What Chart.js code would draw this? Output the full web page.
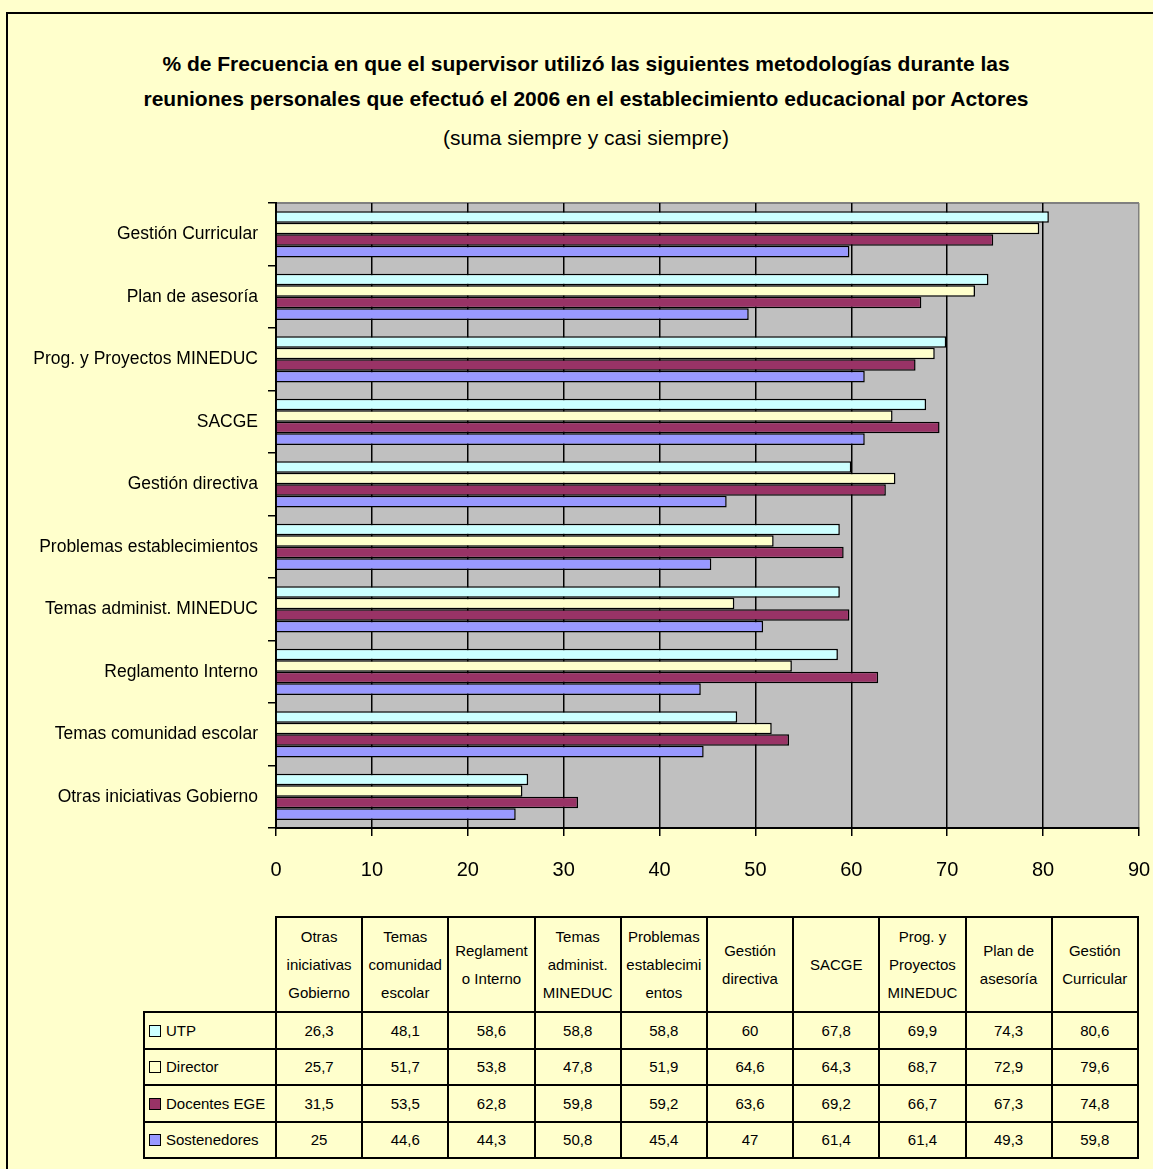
<!DOCTYPE html>
<html>
<head>
<meta charset="utf-8">
<script src="https://cdn.jsdelivr.net/npm/chart.js@4.4.1/dist/chart.umd.min.js"></script>
<style>
  html, body { margin: 0; padding: 0; background: #FFFFCC; overflow: hidden; }
  body { width: 1153px; height: 1169px; position: relative; font-family: 'Liberation Sans', Arial, sans-serif; color: #000; }
  #frame { position: absolute; left: 6px; top: 12px; width: 1200px; height: 1200px; border: 2px solid #000; }
  .title { position: absolute; left: 0; width: 1172px; text-align: center; white-space: nowrap; font-size: 21px; line-height: 24px; }
  #t1 { top: 52px; font-weight: bold; }
  #t2 { top: 87px; font-weight: bold; }
  #t3 { top: 126px; }
  #chartBox { position: absolute; left: 0; top: 0; width: 1153px; height: 900px; }
  #dataTable { position: absolute; left: 143px; top: 916px; border-collapse: collapse; table-layout: fixed; font-size: 15px; }
  #dataTable td { border: 2px solid #000; text-align: center; padding: 0; }
  #dataTable thead td { height: 93px; line-height: 28px; }
  #dataTable tbody td { height: 34.5px; }
  #dataTable td.blank { border: none; }
  #dataTable td.leg { text-align: left; padding-left: 4px; white-space: nowrap; }
  .sw { display: inline-block; width: 10px; height: 10px; border: 1.5px solid #000; margin-right: 5px; vertical-align: -1px; }
</style>
</head>
<body>
<div id="frame"></div>
<div class="title" id="t1">% de Frecuencia en que el supervisor utilizó las siguientes metodologías durante las</div>
<div class="title" id="t2">reuniones personales que efectuó el 2006 en el establecimiento educacional por Actores</div>
<div class="title" id="t3">(suma siempre y casi siempre)</div>
<div id="chartBox"><canvas id="chart"></canvas></div>
<table id="dataTable"><thead></thead><tbody></tbody></table>
<script>
// categorias en el orden de la tabla (de abajo hacia arriba en el grafico)
const categories = ['Otras iniciativas Gobierno', 'Temas comunidad escolar', 'Reglamento Interno', 'Temas administ. MINEDUC',
  'Problemas establecimientos', 'Gestión directiva', 'SACGE', 'Prog. y Proyectos MINEDUC', 'Plan de asesoría', 'Gestión Curricular'];
const tableHeaders = ['Otras<br>iniciativas<br>Gobierno', 'Temas<br>comunidad<br>escolar', 'Reglament<br>o Interno', 'Temas<br>administ.<br>MINEDUC',
  'Problemas<br>establecimi<br>entos', 'Gestión<br>directiva', 'SACGE', 'Prog. y<br>Proyectos<br>MINEDUC', 'Plan de<br>asesoría', 'Gestión<br>Curricular'];

const seriesNames = ['UTP', 'Director', 'Docentes EGE', 'Sostenedores'];
const seriesColors = ['#CCFFFF', '#FFFFCC', '#993366', '#9999FF'];

const utp = [26.3, 48.1, 58.6, 58.8, 58.8, 60, 67.8, 69.9, 74.3, 80.6];
const director = [25.7, 51.7, 53.8, 47.8, 51.9, 64.6, 64.3, 68.7, 72.9, 79.6];
const docentes = [31.5, 53.5, 62.8, 59.8, 59.2, 63.6, 69.2, 66.7, 67.3, 74.8];
const sostenedores = [25, 44.6, 44.3, 50.8, 45.4, 47, 61.4, 61.4, 49.3, 59.8];
const allSeries = [utp, director, docentes, sostenedores];

const xTicks = [0, 10, 20, 30, 40, 50, 60, 70, 80, 90];

const rev = arr => arr.slice().reverse();

// fondo gris del area de trazado
const plotBg = {
    id: 'plotBg',
    beforeDraw(chart) {
        const { ctx, chartArea: a } = chart;
        ctx.save();
        ctx.fillStyle = '#C0C0C0';
        ctx.fillRect(a.left, a.top, a.right - a.left, a.bottom - a.top);
        ctx.strokeStyle = '#808080';
        ctx.lineWidth = 2;
        ctx.beginPath();
        ctx.moveTo(a.left, a.top);
        ctx.lineTo(a.right, a.top);
        ctx.stroke();
        ctx.restore();
    }
};

new Chart(document.getElementById('chart'), {
    type: 'bar',
    data: {
        labels: rev(categories),
        datasets: seriesNames.map((name, i) => ({
            label: name,
            data: rev(allSeries[i]),
            backgroundColor: seriesColors[i],
            borderColor: '#000',
            borderWidth: 1.5,
            barPercentage: 1,
            categoryPercentage: 0.74
        }))
    },
    options: {
        indexAxis: 'y',
        responsive: true,
        maintainAspectRatio: false,
        animation: false,
        layout: { padding: { left: 0, top: 203, right: 14, bottom: 0 } },
        plugins: { legend: { display: false }, tooltip: { enabled: false } },
        scales: {
            x: {
                type: 'linear',
                min: 0, max: 90,
                afterBuildTicks: s => { s.ticks = xTicks.map(v => ({ value: v })); },
                afterFit: s => { s.height = 72; s.paddingLeft = 0; s.paddingRight = 0; },
                grid: {
                    color: c => (c.tick && c.tick.value === 90) ? '#808080' : '#000',
                    lineWidth: 1.5,
                    tickLength: 8,
                    tickColor: '#000'
                },
                border: { color: '#000', width: 2 },
                ticks: { color: '#000', font: { family: 'Liberation Sans', size: 20 }, padding: 22 }
            },
            y: {
                afterFit: s => { s.width = 276; s.paddingTop = 0; s.paddingBottom = 0; },
                grid: { drawOnChartArea: false, tickLength: 8, color: '#000', lineWidth: 1.5 },
                border: { color: '#000', width: 2 },
                ticks: { color: '#000', autoSkip: false, font: { family: 'Liberation Sans', size: 17.5 }, padding: 10 }
            }
        }
    },
    plugins: [plotBg]
});

// tabla de datos
const fmt = v => String(v).replace('.', ',');
let head = '<tr><td class="blank" style="width:131px"></td>';
tableHeaders.forEach(h => { head += `<td style="width:84.2px">${h}</td>`; });
head += '</tr>';
document.querySelector('#dataTable thead').innerHTML = head;

let body = '';
seriesNames.forEach((name, i) => {
    body += `<tr><td class="leg"><span class="sw" style="background:${seriesColors[i]}"></span>${name}</td>`;
    allSeries[i].forEach(v => { body += `<td>${fmt(v)}</td>`; });
    body += '</tr>';
});
document.querySelector('#dataTable tbody').innerHTML = body;
</script>
</body>
</html>
